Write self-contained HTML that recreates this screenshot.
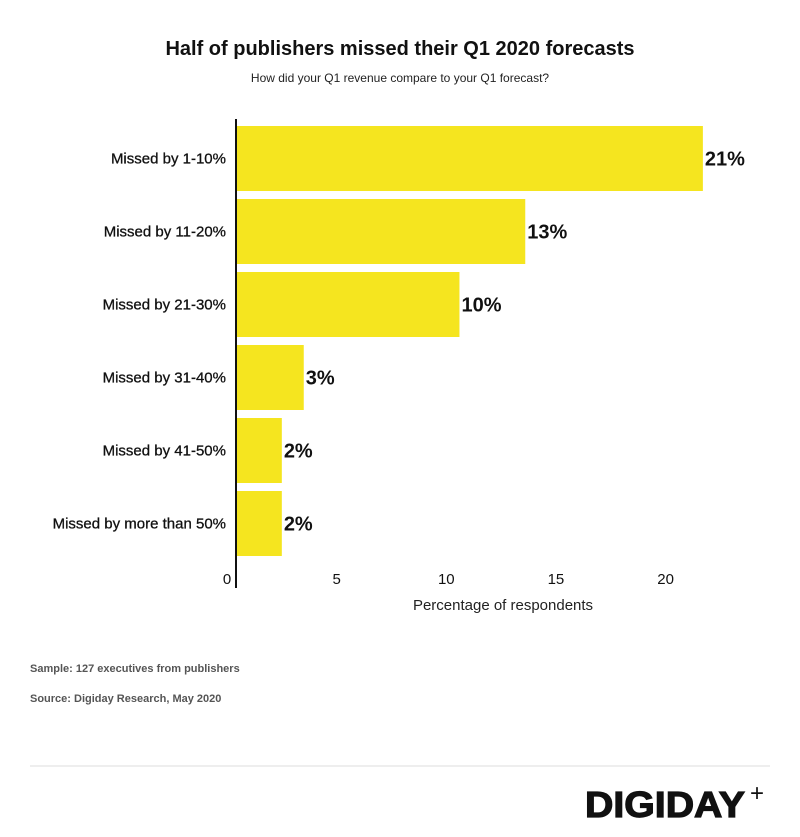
<!DOCTYPE html>
<html><head><meta charset="utf-8"><style>
body{margin:0;background:#fff;font-family:"Liberation Sans",sans-serif;}
#wrap{position:relative;width:800px;height:837px;overflow:hidden;}
</style></head><body>
<div id="wrap">
<svg id="chart" width="800" height="837">
<text x="400" y="55" text-anchor="middle" font-size="20" font-weight="bold" fill="#111">Half of publishers missed their Q1 2020 forecasts</text>
<text x="400" y="82" text-anchor="middle" font-size="12" fill="#222">How did your Q1 revenue compare to your Q1 forecast?</text>
<g id="bars"></g>
<line x1="236" y1="119" x2="236" y2="588" stroke="#111" stroke-width="2"/>
<g id="ticks"></g>
<text x="503" y="610" text-anchor="middle" font-size="15" fill="#222">Percentage of respondents</text>
<text x="30" y="672" font-size="11" font-weight="bold" fill="#555">Sample: 127 executives from publishers</text>
<text x="30" y="702" font-size="11" font-weight="bold" fill="#555">Source: Digiday Research, May 2020</text>
<line x1="30" y1="766" x2="770" y2="766" stroke="#ddd" stroke-width="1"/>
<text x="585" y="817" font-size="36" font-weight="bold" fill="#111" stroke="#111" stroke-width="1.2" textLength="160" lengthAdjust="spacingAndGlyphs">DIGIDAY</text>
<text x="750" y="801" font-size="24" fill="#111">+</text>
</svg>
</div>
<script>
const categories=["Missed by 1-10%","Missed by 11-20%","Missed by 21-30%","Missed by 31-40%","Missed by 41-50%","Missed by more than 50%"];
const values=[21.7,13.6,10.6,3.5,2.5,2.5];
const valueLabels=["21%","13%","10%","3%","2%","2%"];
const tickValues=[0,5,10,15,20];
const ns="http://www.w3.org/2000/svg";
const x0=227,pxPer=21.93,barStart=237;
function xScale(v){return x0+v*pxPer;}
function yScale(i){return 126+i*73;}
const bh=65;
const gb=document.getElementById('bars');
categories.forEach((c,i)=>{
 const r=document.createElementNS(ns,'rect');
 r.setAttribute('x',barStart);r.setAttribute('y',yScale(i));
 r.setAttribute('width',Math.max(0,xScale(values[i])-barStart));r.setAttribute('height',bh);
 r.setAttribute('fill','#f5e51f');
 
 
 gb.appendChild(r);
 const l=document.createElementNS(ns,'text');
 l.setAttribute('x',226);l.setAttribute('y',yScale(i)+bh/2+5);
 l.setAttribute('text-anchor','end');l.setAttribute('font-size','15');l.setAttribute('fill','#111');
 l.setAttribute('stroke','#111');l.setAttribute('stroke-width','0.3');
 l.textContent=c;
 
 
 gb.appendChild(l);
 const v=document.createElementNS(ns,'text');
 v.setAttribute('x',xScale(values[i])+2);v.setAttribute('y',yScale(i)+bh/2+7);
 v.setAttribute('font-size','20');v.setAttribute('font-weight','bold');v.setAttribute('fill','#111');
 v.textContent=valueLabels[i];
 
 
 gb.appendChild(v);
});
const gt=document.getElementById('ticks');
tickValues.forEach(t=>{
 const tx=document.createElementNS(ns,'text');
 tx.setAttribute('x',xScale(t));tx.setAttribute('y',584);
 tx.setAttribute('text-anchor','middle');tx.setAttribute('font-size','15');tx.setAttribute('fill','#111');
 tx.textContent=t;
 
 
 gt.appendChild(tx);
});
</script>
</body></html>
